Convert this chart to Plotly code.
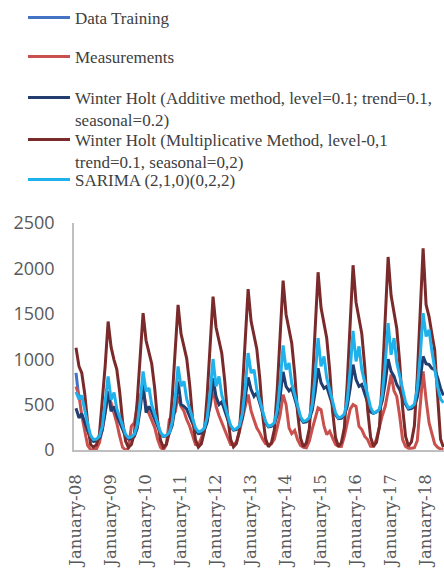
import pandas as pd
import plotly.graph_objects as go

months = pd.date_range("2008-01-01", periods=127, freq="MS")

data_training = [850, 560]

measurements = [
    700, 600, 380, 190, 50, 5, 0, 10, 80, 230, 420, 600,
    520, 410, 300, 150, 30, 0, 20, 262, 299, 481, 600, 665,
    481, 400, 335, 250, 120, 30, 0, 60, 335, 380, 420, 591,
    481, 426, 335, 262, 152, 60, 50, 134, 244, 354, 480, 683,
    481, 380, 300, 207, 134, 60, 60, 90, 200, 350, 480, 610,
    430, 330, 244, 189, 120, 70, 60, 70, 120, 250, 390, 610,
    500, 244, 180, 215, 115, 50, 30, 25, 100, 230, 335, 464,
    445, 262, 170, 207, 134, 60, 42, 40, 150, 300, 450, 500,
    481, 260, 225, 150, 115, 42, 40, 120, 262, 380, 481, 650,
    830, 650, 591, 371, 115, 40, 20, 20, 25, 100, 445, 866,
    555, 300, 189, 66, 30, 10, 5,
]

wh_additive = [
    460, 354, 400, 300, 200, 120, 95, 100, 130, 220, 420, 646,
    426, 480, 380, 300, 220, 150, 120, 125, 150, 240, 450, 720,
    412, 481, 420, 340, 260, 185, 150, 155, 185, 270, 480, 756,
    500, 481, 450, 370, 290, 215, 180, 185, 215, 310, 520, 790,
    590, 500, 530, 430, 340, 260, 220, 225, 255, 350, 560, 800,
    665, 591, 629, 518, 400, 300, 255, 260, 290, 390, 600, 860,
    700, 650, 680, 560, 450, 350, 305, 310, 340, 440, 640, 900,
    740, 680, 700, 600, 490, 390, 345, 350, 380, 480, 680, 940,
    775, 701, 720, 620, 520, 420, 405, 420, 445, 540, 740, 1000,
    866, 811, 720, 665, 560, 500, 450, 455, 480, 580, 780, 1031,
    950, 940, 900, 885, 800, 680, 600,
]

wh_multiplicative = [
    1126, 921, 850, 620, 300, 60, 30, 57, 170, 510, 934, 1415,
    1132, 990, 891, 637, 311, 99, 28, 60, 181, 543, 995, 1508,
    1206, 1056, 950, 679, 332, 106, 30, 64, 192, 576, 1055, 1599,
    1279, 1119, 1007, 720, 352, 112, 32, 68, 203, 608, 1115, 1690,
    1352, 1183, 1065, 761, 372, 118, 34, 71, 213, 638, 1169, 1771,
    1417, 1240, 1116, 797, 390, 124, 35, 75, 224, 672, 1232, 1866,
    1493, 1306, 1176, 840, 411, 131, 37, 78, 235, 705, 1292, 1958,
    1566, 1371, 1234, 881, 431, 137, 39, 81, 244, 733, 1343, 2035,
    1628, 1425, 1282, 916, 448, 142, 41, 85, 255, 765, 1403, 2126,
    1701, 1488, 1339, 957, 468, 149, 43, 89, 267, 800, 1467, 2222,
    1600, 1470, 1290, 1100, 600, 120, 30,
]

sarima = [
    640, 560, 600, 430, 290, 160, 115, 120, 150, 260, 520, 811,
    555, 632, 458, 358, 259, 174, 134, 144, 174, 280, 537, 866,
    646, 684, 498, 391, 285, 195, 152, 162, 192, 306, 575, 921,
    701, 756, 561, 450, 339, 244, 200, 210, 240, 360, 641, 1002,
    701, 811, 606, 489, 372, 272, 225, 235, 265, 394, 689, 1068,
    848, 885, 667, 542, 418, 312, 262, 272, 302, 440, 752, 1152,
    885, 958, 733, 605, 477, 367, 316, 326, 356, 499, 820, 1233,
    921, 1031, 794, 659, 523, 408, 354, 364, 394, 546, 881, 1313,
    976, 1141, 885, 738, 592, 468, 409, 419, 449, 607, 953, 1398,
    1049, 1233, 964, 810, 656, 526, 464, 474, 504, 673, 1038, 1508,
    1250, 1324, 1100, 900, 700, 560, 520,
]

series = [
    ("Data Training", data_training, "#4472C4", "legend"),
    ("Measurements", measurements, "#C9504C", "legend2"),
    ("Winter Holt (Additive method, level=0.1; trend=0.1,<br>seasonal=0.2)", wh_additive, "#233E6E", "legend3"),
    ("Winter Holt (Multiplicative Method, level-0,1<br>trend=0.1, seasonal=0,2)", wh_multiplicative, "#7A2A2A", "legend4"),
    ("SARIMA (2,1,0)(0,2,2)", sarima, "#1FB1EC", "legend5"),
]

W, H = 444, 573

fig = go.Figure()
for name, vals, color, leg in series:
    fig.add_trace(go.Scatter(
        x=months[:len(vals)], y=vals, mode="lines", name=name,
        line=dict(color=color, width=3), legend=leg,
    ))

legend_font = dict(family="Liberation Serif", size=17, color="#404040")
legend_tops = [0, 39, 80, 122, 162]
legend_cfg = {}
for i, top in enumerate(legend_tops):
    key = "legend" if i == 0 else f"legend{i + 1}"
    legend_cfg[key] = dict(
        xref="container", yref="container", x=23 / W, y=1 - top / H,
        xanchor="left", yanchor="top", font=legend_font, valign="top",
        bgcolor="rgba(0,0,0,0)", borderwidth=0, itemwidth=42,
    )

fig.update_layout(
    width=W, height=H,
    margin=dict(l=74, r=0, t=223, b=123, autoexpand=False),
    paper_bgcolor="white", plot_bgcolor="white",
    showlegend=True,
    **legend_cfg,
)

fig.update_xaxes(
    type="date",
    range=["2007-12-11", "2018-07-07"],
    tick0="2008-01-01", dtick="M12", tickformat="%B-%y",
    tickangle=-90,
    tickfont=dict(family="DejaVu Serif", size=16.5, color="#595959"),
    showline=True, linecolor="#BFBFBF", linewidth=1.5,
    showgrid=False, zeroline=False, ticks="", ticklabelstandoff=16,
    automargin=False,
)
fig.update_yaxes(
    range=[0, 2500], dtick=500,
    tickfont=dict(family="Open Sans", size=18, color="#595959"),
    showline=True, linecolor="#BFBFBF", linewidth=1.5,
    showgrid=False, zeroline=False, ticks="", ticklabelstandoff=14,
    automargin=False,
)

fig.write_html(
    "out.html",
    config={"displayModeBar": False},
    post_script="document.body.style.margin='0';document.body.style.overflow='hidden';",
)
